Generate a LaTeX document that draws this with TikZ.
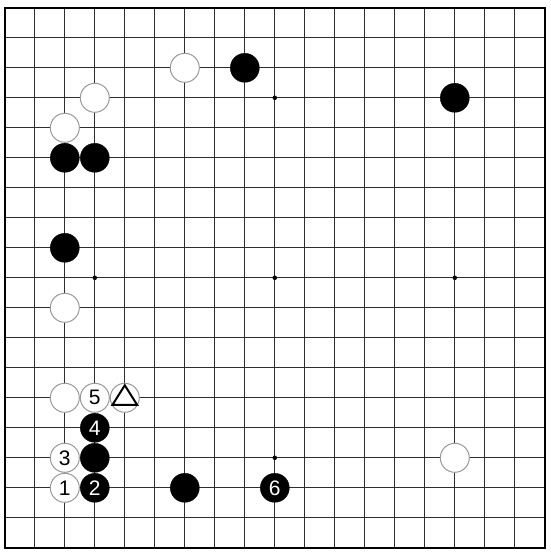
\documentclass[tikz,border=0pt]{standalone}
\usepackage{fontspec}
\setmainfont{Liberation Sans}
\begin{document}
\begin{tikzpicture}[x=1pt,y=-1pt,
  gridline/.style={draw=black!82,line width=1.25pt},
  border/.style={draw=black,line width=2.4pt},
  wstone/.style={circle,draw=black!40,line width=1pt,fill=white,minimum size=29pt,inner sep=0pt,font=\fontsize{21}{21}\selectfont,text=black},
  bstone/.style={circle,draw=black,fill=black,minimum size=29pt,inner sep=0pt,font=\fontsize{21}{21}\selectfont,text=white},
  starpt/.style={circle,fill=black,minimum size=4.5pt,inner sep=0pt}]
\useasboundingbox (0,0) rectangle (550,552);
\fill[white] (0,0) rectangle (550,552);
% grid: column i at x = 4.8+30(i-1), row j at y = 7.8+30(j-1)
\foreach \i in {1,...,17}{
  \draw[gridline] ({4.8+30*\i},7.8) -- ({4.8+30*\i},547.8);
  \draw[gridline] (4.8,{7.8+30*\i}) -- (544.8,{7.8+30*\i});
}
\draw[border] (4.8,7.8) rectangle (544.8,547.8);
% star points
\foreach \c/\r [count=\k] in {10/4,4/10,10/10,16/10,10/16}{
  \node[starpt] (s\k) at ({4.8+30*(\c-1)},{7.8+30*(\r-1)}) {};
}
% white stones
\foreach \c/\r/\t [count=\k] in {7/3/,4/4/,3/5/,3/11/,3/14/,4/14/5,5/14/,3/16/3,3/17/1,16/16/}{
  \node[wstone] (w\k) at ({4.8+30*(\c-1)},{7.8+30*(\r-1)}) {\t};
}
% black stones
\foreach \c/\r/\t [count=\k] in {9/3/,16/4/,3/6/,4/6/,3/9/,4/15/4,4/16/,4/17/2,7/17/,10/17/6}{
  \node[bstone] (b\k) at ({4.8+30*(\c-1)},{7.8+30*(\r-1)}) {\t};
}
% triangle mark on w7
\draw[black,line width=2pt,line join=miter] ([yshift=12.5pt]w7.center) -- ([xshift=-12.3pt,yshift=-7pt]w7.center) -- ([xshift=12.3pt,yshift=-7pt]w7.center) -- cycle;
\end{tikzpicture}
\end{document}
